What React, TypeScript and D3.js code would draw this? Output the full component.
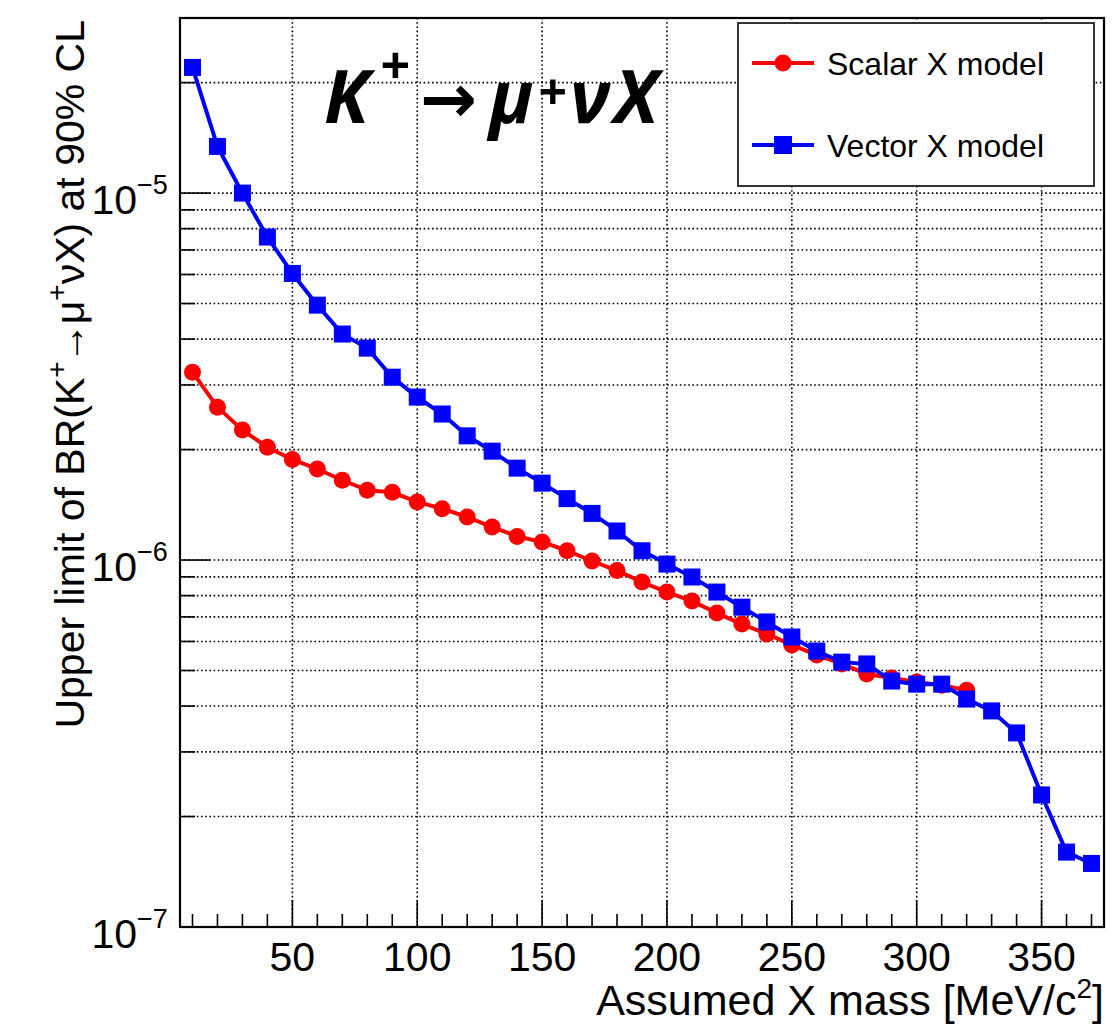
import React from 'react';
import * as d3 from 'd3';

// Assumed X mass points [MeV/c^2]
const scalarMass = [10, 20, 30, 40, 50, 60, 70, 80, 90, 100, 110, 120, 130, 140, 150, 160, 170, 180, 190, 200, 210, 220, 230, 240, 250, 260, 270, 280, 290, 300, 310, 320];
const vectorMass = [10, 20, 30, 40, 50, 60, 70, 80, 90, 100, 110, 120, 130, 140, 150, 160, 170, 180, 190, 200, 210, 220, 230, 240, 250, 260, 270, 280, 290, 300, 310, 320, 330, 340, 350, 360, 370];

// Upper limits on BR(K+ -> mu+ nu X) at 90% CL
const scalarLimit = [3.25e-6, 2.61e-6, 2.26e-6, 2.03e-6, 1.88e-6, 1.77e-6, 1.65e-6, 1.55e-6, 1.53e-6, 1.44e-6, 1.38e-6, 1.31e-6, 1.23e-6, 1.16e-6, 1.12e-6, 1.06e-6, 9.94e-7, 9.36e-7, 8.71e-7, 8.18e-7, 7.73e-7, 7.17e-7, 6.69e-7, 6.29e-7, 5.87e-7, 5.51e-7, 5.21e-7, 4.89e-7, 4.77e-7, 4.65e-7, 4.56e-7, 4.42e-7];
const vectorLimit = [2.2e-5, 1.34e-5, 1.0e-5, 7.59e-6, 6.04e-6, 4.95e-6, 4.13e-6, 3.78e-6, 3.15e-6, 2.78e-6, 2.5e-6, 2.18e-6, 1.98e-6, 1.78e-6, 1.62e-6, 1.47e-6, 1.34e-6, 1.2e-6, 1.06e-6, 9.75e-7, 8.99e-7, 8.18e-7, 7.44e-7, 6.78e-7, 6.17e-7, 5.65e-7, 5.27e-7, 5.21e-7, 4.68e-7, 4.59e-7, 4.59e-7, 4.18e-7, 3.88e-7, 3.38e-7, 2.29e-7, 1.6e-7, 1.49e-7];

const xMajorTicks = [50, 100, 150, 200, 250, 300, 350];
const yDecades = [-7, -6, -5];
const legendLabels = ['Scalar X model', 'Vector X model'];

const W = 1112;
const H = 1024;
const frame = { left: 180, right: 1104, top: 18, bottom: 927 };
const sans = '"Liberation Sans", Arial, Helvetica, sans-serif';

export default function App() {
  const x = d3.scaleLinear().domain([5, 375]).range([frame.left, frame.right]);
  const y = d3.scaleLog().domain([1e-7, 3e-5]).range([frame.bottom, frame.top]);

  const xMinorTicks = x.ticks(37).filter((t) => !xMajorTicks.includes(t));
  const yAllTicks = y.ticks();
  const isMajorY = (v: number) => Math.abs(Math.log10(v) - Math.round(Math.log10(v))) < 1e-9;

  const line = d3
    .line<[number, number]>()
    .x((d) => x(d[0]))
    .y((d) => y(d[1]));

  const scalarPts: [number, number][] = scalarMass.map((m, i) => [m, scalarLimit[i]]);
  const vectorPts: [number, number][] = vectorMass.map((m, i) => [m, vectorLimit[i]]);

  const red = '#ff0000';
  const blue = '#0000ff';
  const grid = { stroke: '#000', strokeWidth: 1.6, strokeDasharray: '1.6 2.6' };

  return (
    <svg width={W} height={H} style={{ position: 'absolute', left: 0, top: 0, background: '#fff' }}>
      <rect x={0} y={0} width={W} height={H} fill="#fff" />

      {/* grid */}
      <g>
        {xMajorTicks.map((t) => (
          <line key={'gx' + t} x1={x(t)} x2={x(t)} y1={frame.top} y2={frame.bottom} {...grid} />
        ))}
        {yAllTicks
          .filter((v) => y(v) > frame.top + 1 && y(v) < frame.bottom - 1)
          .map((v) => (
            <line key={'gy' + v} x1={frame.left} x2={frame.right} y1={y(v)} y2={y(v)} {...grid} />
          ))}
      </g>

      {/* axis ticks */}
      <g stroke="#000" strokeWidth={1.6}>
        {xMajorTicks.map((t) => (
          <line key={'xM' + t} x1={x(t)} x2={x(t)} y1={frame.bottom} y2={frame.bottom - 27} />
        ))}
        {xMinorTicks.map((t) => (
          <line key={'xm' + t} x1={x(t)} x2={x(t)} y1={frame.bottom} y2={frame.bottom - 13} />
        ))}
        {yAllTicks.map((v) => (
          <line key={'yt' + v} x1={frame.left} x2={frame.left + (isMajorY(v) ? 30 : 15)} y1={y(v)} y2={y(v)} />
        ))}
      </g>

      {/* series */}
      <path d={line(scalarPts) || ''} fill="none" stroke={red} strokeWidth={4} strokeLinejoin="round" />
      {scalarPts.map((d, i) => (
        <circle key={'s' + i} cx={x(d[0])} cy={y(d[1])} r={8.5} fill={red} />
      ))}
      <path d={line(vectorPts) || ''} fill="none" stroke={blue} strokeWidth={4} strokeLinejoin="round" />
      {vectorPts.map((d, i) => (
        <rect key={'v' + i} x={x(d[0]) - 8.5} y={y(d[1]) - 8.5} width={17} height={17} fill={blue} />
      ))}

      {/* frame */}
      <rect
        x={frame.left}
        y={frame.top}
        width={frame.right - frame.left}
        height={frame.bottom - frame.top}
        fill="none"
        stroke="#000"
        strokeWidth={2.2}
      />

      {/* x tick labels */}
      <g fontFamily={sans} fontSize={41} fill="#000" textAnchor="middle">
        {xMajorTicks.map((t) => (
          <text key={'xl' + t} x={x(t)} y={971}>
            {t}
          </text>
        ))}
      </g>

      {/* y tick labels */}
      <g fontFamily={sans} fill="#000">
        {yDecades.map((e) => {
          const yy = y(Math.pow(10, e));
          return (
            <g key={'yl' + e}>
              <text x={137} y={yy + 21} fontSize={41} textAnchor="end">
                10
              </text>
              <text x={137} y={yy + 1} fontSize={27}>
                {'\u2212' + Math.abs(e)}
              </text>
            </g>
          );
        })}
      </g>

      {/* axis titles */}
      <text x={frame.right} y={1015} fontFamily={sans} fontSize={43} textAnchor="end" fill="#000">
        Assumed X mass [MeV/c
        <tspan fontSize={28} dy={-17}>
          2
        </tspan>
        <tspan dy={17}>]</tspan>
      </text>
      <text transform={`translate(84, ${frame.top + 2}) rotate(-90)`} fontFamily={sans} fontSize={41} textAnchor="end" fill="#000">
        Upper limit of BR(K
        <tspan fontSize={28} dy={-18}>
          +
        </tspan>
        <tspan dy={18} dx={-2}>{'\u2192'}</tspan>
        <tspan dx={-2}>{'\u03bc'}</tspan>
        <tspan fontSize={28} dy={-18}>
          +
        </tspan>
        <tspan dy={18}>{'\u03bdX) at 90% CL'}</tspan>
      </text>

      {/* process label */}
      <g fill="#000" fontFamily='"Open Sans", "Noto Sans", sans-serif' fontWeight={700} fontStyle="italic">
        <text x={324} y={123} fontSize={73}>K</text>
        <text x={380} y={84} fontSize={52}>+</text>
        <text x={420} y={122} fontSize={68} fontFamily='"DejaVu Sans", sans-serif' fontWeight={700} fontStyle="normal">
          {'\u2192'}
        </text>
        <text x={489} y={123} fontSize={73}>{'\u03bc'}</text>
        <text x={538} y={110} fontSize={50}>+</text>
        <text x={570} y={123} fontSize={73}>{'\u03bd'}</text>
        <text x={614} y={123} fontSize={73}>X</text>
      </g>

      {/* legend */}
      <g>
        <rect x={738} y={23} width={356} height={163} fill="#fff" stroke="#333" strokeWidth={2} />
        {legendLabels.map((lab, i) => {
          const ly = i === 0 ? 63 : 145;
          const color = i === 0 ? red : blue;
          return (
            <g key={lab}>
              <line x1={752} x2={814} y1={ly} y2={ly} stroke={color} strokeWidth={4} />
              {i === 0 ? (
                <circle cx={783} cy={ly} r={8.5} fill={color} />
              ) : (
                <rect x={783 - 9} y={ly - 9} width={18} height={18} fill={color} />
              )}
              <text x={827} y={ly + 12} fontFamily={sans} fontSize={32} fill="#000">
                {lab}
              </text>
            </g>
          );
        })}
      </g>
    </svg>
  );
}
